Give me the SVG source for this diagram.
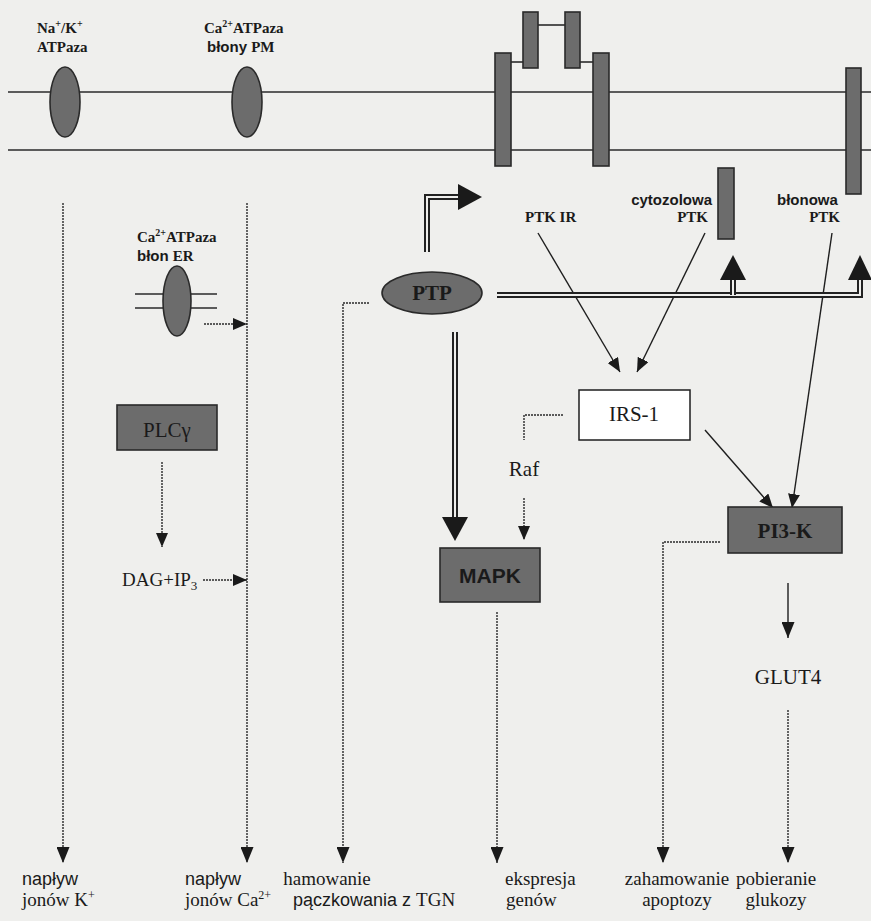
<svg xmlns="http://www.w3.org/2000/svg" width="871" height="921" viewBox="0 0 871 921">
<style>
.bg{fill:#efefed}
.mem{stroke:#2a2a2a;stroke-width:1.6;fill:none}
.shape{fill:#6c6c6c;stroke:#2a2a2a;stroke-width:1.6}
.solid{stroke:#1e1e1e;stroke-width:1.4;fill:none}
.dot{stroke:#2a2a2a;stroke-width:1.4;fill:none;stroke-dasharray:2 1}
.dblo{stroke:#222;stroke-width:6;fill:none}
.dbli{stroke:#efefed;stroke-width:2;fill:none}
.head{fill:#1a1a1a}
.sb{font-family:"Liberation Serif",serif;font-weight:bold;font-size:15px;fill:#1a1a1a}
.ab{font-family:"Liberation Sans",sans-serif;font-weight:bold;font-size:15px;fill:#1a1a1a}
.lab{font-family:"Liberation Serif",serif;font-size:21px;fill:#1a1a1a}
.out{font-family:"Liberation Serif",serif;font-size:19px;fill:#1a1a1a}
.outs{font-family:"Liberation Sans",sans-serif;font-size:18px;fill:#1a1a1a}
</style>
<defs>
<marker id="ah" viewBox="0 0 14 12" refX="14" refY="6" markerWidth="14" markerHeight="12" markerUnits="userSpaceOnUse" orient="auto"><path d="M0,0 L14,6 L0,12 z" class="head"/></marker>
<marker id="ahb" viewBox="0 0 16 13" refX="16" refY="6.5" markerWidth="16" markerHeight="13" markerUnits="userSpaceOnUse" orient="auto"><path d="M0,0 L16,6.5 L0,13 z" class="head"/></marker>
</defs>
<rect class="bg" x="0" y="0" width="871" height="921"/>

<g id="membrane">
<line class="mem" x1="8" y1="92" x2="871" y2="92"/>
<line class="mem" x1="8" y1="150" x2="871" y2="150"/>
</g>

<g id="connectors">
<line class="dot" x1="63" y1="203" x2="63" y2="863" marker-end="url(#ahb)"/>
<line class="dot" x1="247" y1="203" x2="247" y2="863" marker-end="url(#ahb)"/>
<polyline class="dot" points="369,303 343,303 343,863" marker-end="url(#ahb)"/>
<line class="dot" x1="497" y1="612" x2="497" y2="863" marker-end="url(#ahb)"/>
<polyline class="dot" points="720,542 663,542 663,863" marker-end="url(#ahb)"/>
<line class="dot" x1="788" y1="710" x2="788" y2="863" marker-end="url(#ahb)"/>
<line class="dot" x1="204" y1="324" x2="247" y2="324" marker-end="url(#ah)"/>
<line class="dot" x1="162" y1="462" x2="162" y2="547" marker-end="url(#ah)"/>
<line class="dot" x1="203" y1="580" x2="247" y2="580" marker-end="url(#ah)"/>
<polyline class="dot" points="563,415 524,415 524,440"/>
<line class="dot" x1="524" y1="498" x2="524" y2="540" marker-end="url(#ah)"/>
<line class="solid" x1="538" y1="233" x2="620" y2="372" marker-end="url(#ah)"/>
<line class="solid" x1="705" y1="233" x2="637" y2="372" marker-end="url(#ah)"/>
<line class="solid" x1="832" y1="233" x2="792" y2="508" marker-end="url(#ah)"/>
<line class="solid" x1="705" y1="430" x2="773" y2="508" marker-end="url(#ah)"/>
<line class="solid" x1="788" y1="583" x2="788" y2="638" marker-end="url(#ahb)"/>
<polyline class="dblo" points="427,252 427,197 459,197"/>
<polyline class="dbli" points="427,252 427,197 459,197"/>
<path class="head" d="M458,184 L482,197 L458,210 z"/>
<line class="dblo" x1="455" y1="332" x2="455" y2="518"/>
<line class="dbli" x1="455" y1="332" x2="455" y2="518"/>
<path class="head" d="M442,517 L468,517 L455,541 z"/>
<polyline class="dblo" points="497,295 860,295 860,279"/>
<polyline class="dbli" points="497,295 860,295 860,279"/>
<line class="dblo" x1="733" y1="295" x2="733" y2="279"/>
<line class="dbli" x1="733" y1="296" x2="733" y2="279"/>
<path class="head" d="M720,280 L733,255 L746,280 z"/>
<path class="head" d="M848,280 L860,255 L872,280 z"/>
</g>

<g id="na-k-atpaza">
<ellipse class="shape" cx="65" cy="102" rx="15" ry="35"/>
<text class="sb" x="37" y="33">Na<tspan font-size="10" dy="-6">+</tspan><tspan dy="6">/K</tspan><tspan font-size="10" dy="-6">+</tspan></text>
<text class="sb" x="37" y="52">ATPaza</text>
</g>

<g id="ca-atpaza-pm">
<ellipse class="shape" cx="247" cy="102" rx="15" ry="35"/>
<text class="sb" x="204" y="33">Ca<tspan font-size="10" dy="-6">2+</tspan><tspan dy="6">ATPaza</tspan></text>
<text class="ab" x="207" y="52">błony <tspan class="sb">PM</tspan></text>
</g>

<g id="insulin-receptor">
<line class="mem" x1="538" y1="25" x2="565" y2="25"/>
<line class="mem" x1="511" y1="62" x2="523" y2="62"/>
<line class="mem" x1="580" y1="62" x2="593" y2="62"/>
<rect class="shape" x="495" y="53" width="16" height="113"/>
<rect class="shape" x="523" y="12" width="15" height="56"/>
<rect class="shape" x="565" y="12" width="15" height="56"/>
<rect class="shape" x="593" y="53" width="16" height="113"/>
<text class="sb" x="525" y="222">PTK IR</text>
</g>

<g id="cytozolowa-ptk">
<rect class="shape" x="718" y="168" width="16" height="71"/>
<text class="ab" x="712" y="205" text-anchor="end">cytozolowa</text>
<text class="sb" x="708" y="222" text-anchor="end">PTK</text>
</g>

<g id="blonowa-ptk">
<rect class="shape" x="846" y="68" width="15" height="126"/>
<text class="ab" x="777" y="205">błonowa</text>
<text class="sb" x="840" y="222" text-anchor="end">PTK</text>
</g>

<g id="ca-atpaza-er">
<line class="mem" x1="135" y1="294" x2="217" y2="294"/>
<line class="mem" x1="135" y1="308" x2="217" y2="308"/>
<ellipse class="shape" cx="177" cy="301" rx="14" ry="35"/>
<text class="sb" x="137" y="242">Ca<tspan font-size="10" dy="-6">2+</tspan><tspan dy="6">ATPaza</tspan></text>
<text class="ab" x="137" y="261">błon  <tspan class="sb">ER</tspan></text>
</g>

<g id="ptp">
<ellipse class="shape" cx="432" cy="293" rx="50" ry="21"/>
<text class="lab" x="432" y="300" text-anchor="middle" font-weight="bold">PTP</text>
</g>

<g id="plc">
<rect class="shape" x="117" y="405" width="100" height="45"/>
<text class="lab" x="167" y="437" text-anchor="middle">PLCγ</text>
</g>

<g id="dag-ip3">
<text class="out" x="122" y="586">DAG+IP<tspan font-size="13" dy="4">3</tspan></text>
</g>

<g id="irs1">
<rect x="579" y="390" width="111" height="50" fill="#ffffff" stroke="#1e1e1e" stroke-width="1.5"/>
<text class="lab" x="634" y="421" text-anchor="middle">IRS-1</text>
</g>

<g id="raf">
<text class="lab" x="524" y="476" text-anchor="middle">Raf</text>
</g>

<g id="mapk">
<rect class="shape" x="440" y="548" width="100" height="54"/>
<text x="490" y="583" text-anchor="middle" font-family="Liberation Sans, sans-serif" font-weight="bold" font-size="21" fill="#1a1a1a">MAPK</text>
</g>

<g id="pi3k">
<rect class="shape" x="728" y="507" width="114" height="46"/>
<text class="lab" x="785" y="538" text-anchor="middle" font-weight="bold">PI3-K</text>
</g>

<g id="glut4">
<text class="lab" x="788" y="684" text-anchor="middle">GLUT4</text>
</g>

<g id="out-k">
<text class="outs" x="22" y="885">napływ</text>
<text class="out" x="22" y="906">jonów K<tspan font-size="12" dy="-7">+</tspan></text>
</g>
<g id="out-ca">
<text class="outs" x="185" y="885">napływ</text>
<text class="out" x="185" y="906">jonów Ca<tspan font-size="12" dy="-7">2+</tspan></text>
</g>
<g id="out-tgn">
<text class="out" x="327" y="885" text-anchor="middle">hamowanie</text>
<text class="outs" x="293" y="906">pączkowania z <tspan class="out">TGN</tspan></text>
</g>
<g id="out-geny">
<text class="out" x="505" y="885">ekspresja</text>
<text class="out" x="506" y="906">genów</text>
</g>
<g id="out-apoptoza">
<text class="out" x="677" y="885" text-anchor="middle">zahamowanie</text>
<text class="out" x="677" y="906" text-anchor="middle">apoptozy</text>
</g>
<g id="out-glukoza">
<text class="out" x="776" y="885" text-anchor="middle">pobieranie</text>
<text class="out" x="776" y="906" text-anchor="middle">glukozy</text>
</g>
</svg>
